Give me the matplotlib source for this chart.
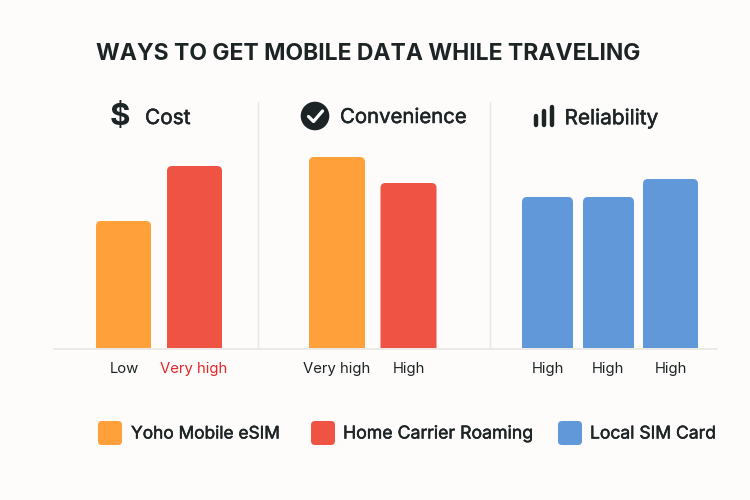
import matplotlib
matplotlib.use("Agg")
import matplotlib.pyplot as plt
import matplotlib.patheffects as pe
from matplotlib.patches import Circle, FancyBboxPatch, Rectangle

# Values, as bar heights in pixels above the baseline
cost_levels = ["Low", "Very high"]
cost_values = [127, 182]
convenience_levels = ["Very high", "High"]
convenience_values = [191, 165]
reliability_levels = ["High", "High", "High"]
reliability_values = [151, 151, 169]
legend_names = ["Yoho Mobile eSIM", "Home Carrier Roaming", "Local SIM Card"]

ORANGE = "#FFA03B"
RED = "#EF5343"
BLUE = "#6198D9"
INK = "#1D2426"
BG = "#FEFCFA"
LINE = "#E9E7E3"

plt.rcParams["font.family"] = ["Inter", "DejaVu Sans"]

fig = plt.figure(figsize=(7.5, 5), dpi=100, facecolor=BG)

# Full figure overlay in pixel coordinates for text and icons
over = fig.add_axes([0, 0, 1, 1], zorder=3)
over.set_xlim(0, 750)
over.set_ylim(500, 0)
over.axis("off")

# Bars, the axes bottom sits on the baseline so the lower corners get clipped
ax = fig.add_axes([0, 152 / 500, 1, 348 / 500], zorder=2)
ax.set_xlim(0, 750)
ax.set_ylim(0, 348)
ax.axis("off")
ax.patch.set_alpha(0)


def rounded_bars(centers, values, width, colors):
    bars = ax.bar(centers, values, width=width, color=colors)
    for bar in bars:
        x, w, h = bar.get_x(), bar.get_width(), bar.get_height()
        bar.set_visible(False)
        r = 5
        box = FancyBboxPatch((x + r, -20), w - 2 * r, h + 20 - r,
                             boxstyle=f"round,pad={r},rounding_size={r}",
                             facecolor=bar.get_facecolor(), edgecolor="none")
        ax.add_patch(box)
        box.set_clip_path(Rectangle((0, 0), 750, 348, transform=ax.transData))


rounded_bars([123.5, 194.5], cost_values, 55, [ORANGE, RED])
rounded_bars([337, 408.5], convenience_values, 56, [ORANGE, RED])
rounded_bars([547.5, 608.5], reliability_values[:2], 51, [BLUE, BLUE])
rounded_bars([670.5], reliability_values[2:], 55, [BLUE])

# Baseline and dividers
over.plot([54, 717], [348.5, 348.5], color=LINE, lw=1.2, zorder=1)
over.plot([258, 258], [102, 348], color=LINE, lw=1.0, zorder=1)
over.plot([490, 490], [102, 348], color=LINE, lw=1.0, zorder=1)

# Title
over.text(95.5, 54, "WAYS TO GET MOBILE DATA WHILE TRAVELING", fontsize=16.5,
          fontweight="bold", color=INK, va="center", ha="left")

# Thin stroke to thicken the regular weight a little
medium = [pe.withStroke(linewidth=0.35, foreground=INK)]

# Panel headings
over.text(145, 118, "Cost", fontsize=15, color=INK, va="center", path_effects=medium)
over.text(340, 118, "Convenience", fontsize=14.65, color=INK, va="center", path_effects=medium)
over.text(564.5, 118, "Reliability", fontsize=15, color=INK, va="center", path_effects=medium)

# Icons
over.text(120, 117, "$", fontsize=22.5, fontweight="bold", color=INK, va="center", ha="center")
over.add_patch(Circle((315, 116), 14.3, facecolor=INK, edgecolor="none"))
over.plot([308.5, 313.5, 322.5], [116.5, 121.5, 111], color="white", lw=2.3,
          solid_capstyle="round", solid_joinstyle="round")
for x, top in zip([536, 543.5, 552], [116, 111, 107]):
    over.plot([x, x], [top, 125], color=INK, lw=3.2, solid_capstyle="round")

# Level labels under the bars
label_x = [124, 194, 337, 409, 547.5, 607.5, 670.5]
labels = cost_levels + convenience_levels + reliability_levels
for x, name, level_color in zip(label_x, labels, [INK, "#E5262A"] + [INK] * 5):
    over.text(x, 369, name, fontsize=10.7, color=level_color, ha="center", va="center")

# Legend
legend_sizes = [12.45, 12.75, 12.6]
for x, name, color, tx, size in zip([98, 311, 558], legend_names, [ORANGE, RED, BLUE],
                                    [131, 343, 590], legend_sizes):
    over.add_patch(FancyBboxPatch((x + 4, 425), 16, 16, boxstyle="round,pad=4,rounding_size=4",
                                  facecolor=color, edgecolor="none"))
    over.text(tx, 434, name, fontsize=size, color=INK, va="center", ha="left", path_effects=medium)

fig.savefig("out.png", dpi=100, facecolor=BG)
